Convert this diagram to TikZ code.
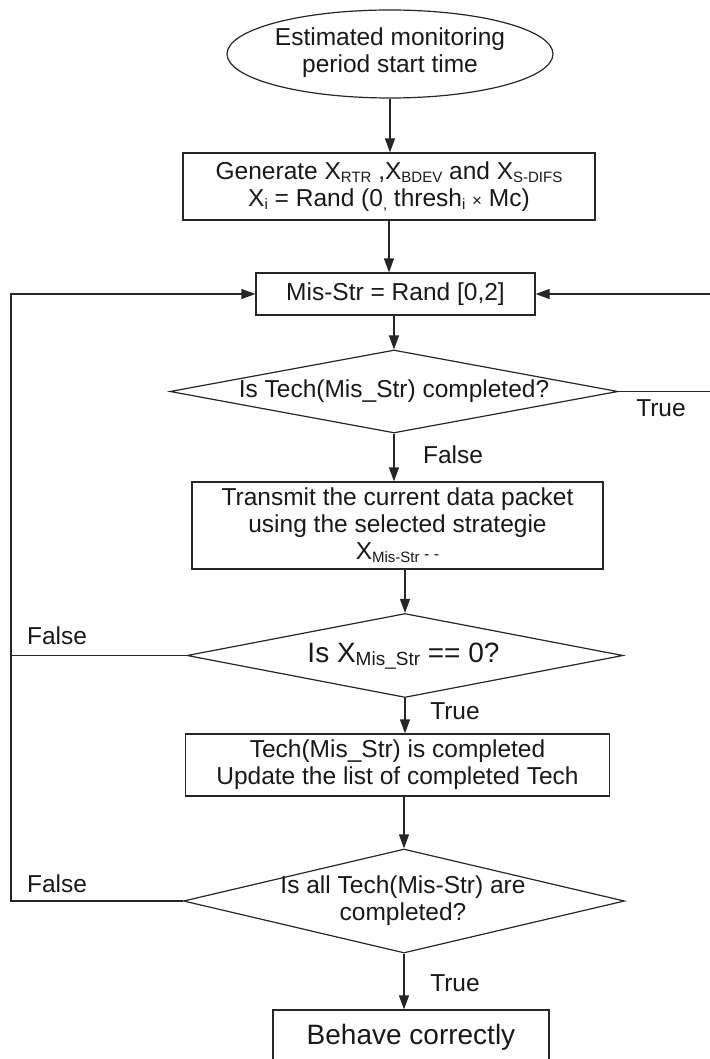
\documentclass[tikz,border=0pt]{standalone}
\usepackage{fontspec}
\setmainfont{Liberation Sans}
\usetikzlibrary{shapes.geometric,arrows.meta}
\newcommand\lsub[1]{\raisebox{-3pt}{\fontsize{15}{15}\selectfont #1}}
\newcommand\bsub[1]{\raisebox{-3pt}{\fontsize{19}{19}\selectfont #1}}
\begin{document}
\begin{tikzpicture}[x=1pt,y=-1pt,
  every node/.style={font=\fontsize{24.5}{27}\selectfont, inner sep=0pt, text=black!90},
  box/.style={draw=black!85, line width=1.2pt, rectangle},
  dia/.style={draw=black!85, line width=1.2pt, diamond},
  ell/.style={draw=black!85, line width=1.2pt, ellipse},
  conn/.style={draw=black!85, line width=1.2pt, -{Triangle[length=14pt,width=10pt]}},
  wire/.style={draw=black!85, line width=1.2pt},
  txt/.style={align=center}]
\useasboundingbox (0,0) rectangle (709,1059);

% shapes
\node[ell, minimum width=326, minimum height=88] (e) at (390,54) {};
\node[txt] (et) at (390,53) {Estimated monitoring\\period start time};

\node[box, minimum width=412, minimum height=67, txt] (b1) at (389,186.5)
  {Generate X\lsub{RTR} ,X\lsub{BDEV} and X\lsub{S-DIFS}\\
   X\lsub{i} = Rand (0\lsub{,} thresh\lsub{i} {\fontsize{17}{17}\selectfont ×} Mc)};

\node[box, minimum width=279, minimum height=42] (b2) at (395.5,294) {Mis-Str = Rand [0,2]};

\node[dia, minimum width=448, minimum height=83] (d1) at (394,391.5) {};
\node (d1t) at (394,391) {Is Tech(Mis\_Str) completed?};

\node[box, minimum width=411, minimum height=87, txt] (b3) at (397.5,525.5)
  {Transmit the current data packet\\using the selected strategie\\
   X\lsub{Mis-Str}{\fontsize{16}{16}\selectfont\ - -}};

\node[dia, minimum width=436, minimum height=84] (d2) at (405,655.5) {};
\node (d2t) at (403.5,656) {\fontsize{28}{30}\selectfont Is X\bsub{Mis\_Str} == 0?};

\node[box, minimum width=424, minimum height=62, txt] (b4) at (397.5,765)
  {Tech(Mis\_Str) is completed\\Update the list of completed Tech};

\node[dia, minimum width=441, minimum height=104] (d3) at (404,901) {};
\node[txt] (d3t) at (403,900.5) {Is all Tech(Mis-Str) are\\completed?};

\node[box, minimum width=276, minimum height=54] (b5) at (411,1037)
  {\fontsize{28}{30}\selectfont Behave correctly};

% loop coordinates (right one lies just outside the picture, as in the reference)
\coordinate (lf) at (11,0);
\coordinate (rt) at (716,0);

% vertical connectors
\draw[conn] (e.south) -- (e.south |- b1.north);
\draw[conn] (b1.south) -- (b1.south |- b2.north);
\draw[conn] (d1.north |- b2.south) -- (d1.north);
\draw[conn] (d1.south) -- (d1.south |- b3.north);
\draw[conn] (d2.north |- b3.south) -- (d2.north);
\draw[conn] (d2.south) -- (d2.south |- b4.north);
\draw[conn] (d3.north |- b4.south) -- (d3.north);
\draw[conn] (d3.south) -- (d3.south |- b5.north);

% loops
\draw[conn] (d1.east) -- (d1.east -| rt) |- (b2.east);
\draw[conn] (d3.west) -| (lf |- b2.west) -- (b2.west);
\draw[wire] (d2.west) -- (d2.west -| lf);

% labels
\node (l1) at (661,408) {True};
\node (l2) at (453,455) {False};
\node (l3) at (57,636) {False};
\node (l4) at (455,711) {True};
\node (l5) at (57,884) {False};
\node (l6) at (455,983) {True};
\end{tikzpicture}
\end{document}
